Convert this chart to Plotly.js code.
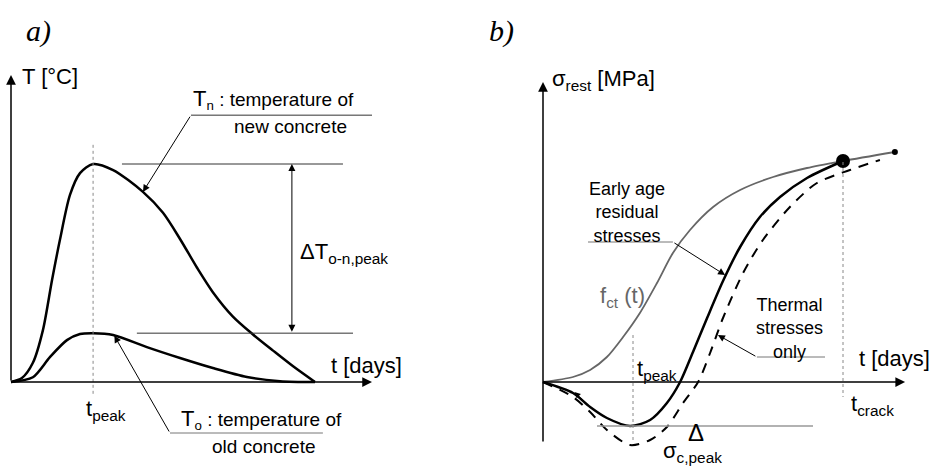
<!DOCTYPE html>
<html>
<head>
<meta charset="utf-8">
<script src="https://cdn.plot.ly/plotly-3.0.1.min.js"></script>
<style>html,body{margin:0;padding:0;background:#fff;}#chart{width:932px;height:467px;}</style>
</head>
<body>
<div id="chart"></div>
<script>
// ---------- Panel a) temperature histories ----------
const tNew   = [0, 0.36, 0.72, 1.05, 1.35, 1.61, 1.94, 2.27, 2.70, 3.36, 4.34, 5.0, 5.56, 6.12, 6.64, 7.30, 7.96, 8.62, 9.28, 10.0];
const T_new  = [0, 0.9, 4.4, 11.9, 23.4, 32.6, 42.9, 47.9, 50.0, 48.6, 43.6, 38.8, 32.8, 26.2, 20.6, 15.0, 10.9, 7.2, 3.6, 0];
const tOld   = [0, 0.72, 1.28, 1.84, 2.27, 2.70, 3.36, 4.47, 5.56, 6.64, 7.76, 8.85, 10.0];
const T_old  = [0, 1.1, 5.7, 9.6, 11.0, 11.2, 10.8, 8.0, 5.5, 3.2, 1.15, 0.2, 0];
const tPeakA = 2.70;

// ---------- Panel b) stresses ----------
const tFct    = [0, 1.0, 1.57, 2.13, 2.67, 3.23, 3.8, 4.33, 4.9, 5.67, 6.57, 7.67, 8.8, 10.0, 11.73];
const fct     = [0, 0.05, 0.12, 0.25, 0.45, 0.69, 0.99, 1.29, 1.52, 1.75, 1.92, 2.05, 2.14, 2.21, 2.30];
const tRes    = [0, 1.0, 1.57, 2.13, 2.9, 3.57, 4.13, 4.57, 5.0, 5.47, 6.0, 6.57, 7.23, 7.9, 8.8, 10.0];
const sigRes  = [0, -0.11, -0.25, -0.36, -0.44, -0.38, -0.21, 0, 0.30, 0.64, 1.01, 1.35, 1.65, 1.85, 2.04, 2.21];
const tTh     = [0, 1.0, 1.57, 2.13, 2.9, 3.57, 4.13, 4.67, 5.17, 5.57, 6.0, 6.67, 7.33, 8.23, 9.13, 10.23, 11.23];
const sigTh   = [0, -0.15, -0.30, -0.48, -0.63, -0.58, -0.45, -0.21, 0, 0.29, 0.64, 1.09, 1.42, 1.75, 1.99, 2.12, 2.22];
const tPeakB  = 3.0;
const tCrack  = 10.0;
const sigCPeak = -0.44;

const FONT = "Liberation Sans, Arial, sans-serif";
const crackVal = sigRes[sigRes.length - 1];
const SM = 0.8;

const traces = [
  {x: tNew, y: T_new, xaxis: 'x', yaxis: 'y', mode: 'lines', line: {color: '#000', width: 2.5, shape: 'spline', smoothing: SM}},
  {x: tOld, y: T_old, xaxis: 'x', yaxis: 'y', mode: 'lines', line: {color: '#000', width: 2.5, shape: 'spline', smoothing: SM}},
  {x: tFct, y: fct, xaxis: 'x2', yaxis: 'y2', mode: 'lines', line: {color: '#666', width: 1.8, shape: 'spline', smoothing: SM}},
  {x: [tFct[tFct.length-1]], y: [fct[fct.length-1]], xaxis: 'x2', yaxis: 'y2', mode: 'markers', marker: {color: '#000', size: 6}},
  {x: tRes, y: sigRes, xaxis: 'x2', yaxis: 'y2', mode: 'lines', line: {color: '#000', width: 2.5, shape: 'spline', smoothing: SM}},
  {x: tTh, y: sigTh, xaxis: 'x2', yaxis: 'y2', mode: 'lines', line: {color: '#000', width: 2, dash: '10px,8px', shape: 'spline', smoothing: SM}},
  {x: [tCrack], y: [crackVal], xaxis: 'x2', yaxis: 'y2', mode: 'markers', marker: {color: '#000', size: 14}}
];

function hline(xr, yr, x0, x1, y, color, width, dash) {
  return {type: 'line', xref: xr, yref: yr, x0: x0, x1: x1, y0: y, y1: y, line: {color: color, width: width, dash: dash || 'solid'}};
}
function vline(xr, yr, x, y0, y1, color, width, dash) {
  return {type: 'line', xref: xr, yref: yr, x0: x, x1: x, y0: y0, y1: y1, line: {color: color, width: width, dash: dash || 'solid'}};
}

const shapes = [
  vline('x', 'y', tPeakA, 54.4, -3.0, '#888', 1, 'dot'),
  hline('x', 'y', 3.65, 10.92, 50.0, '#333', 1),
  hline('x', 'y', 4.14, 11.25, 11.2, '#333', 1),
  hline('x', 'y', 5.92, 11.875, 61.2, '#333', 1),
  hline('x', 'y', 5.23, 10.26, -11.7, '#777', 1),
  vline('x2', 'y2', tPeakB, 0.47, -0.58, '#888', 1, 'dot'),
  vline('x2', 'y2', tCrack, 2.2, -0.15, '#888', 1, 'dot'),
  hline('x2', 'y2', 1.8, 9.0, sigCPeak, '#999', 1.5),
  hline('x2', 'y2', 1.5, 4.33, 1.40, '#777', 1),
  hline('x2', 'y2', 7.13, 9.4, 0.25, '#777', 1)
];

function arrow(xr, yr, x, y, ax, ay, width, size, head, side) {
  return {xref: xr, yref: yr, axref: xr, ayref: yr, x: x, y: y, ax: ax, ay: ay, text: '',
          showarrow: true, arrowhead: head, arrowsize: size, arrowwidth: width, arrowcolor: '#000',
          arrowside: side || 'end', standoff: 0, startstandoff: 0};
}
function label(xr, yr, x, y, text, size, xanchor, color, align) {
  return {xref: xr, yref: yr, x: x, y: y, text: text, showarrow: false, xanchor: xanchor || 'left', yanchor: 'middle',
          align: align || 'left', font: {family: FONT, size: size, color: color || '#000'}};
}

const annotations = [
  // axes a
  arrow('x', 'y', 0, 70.4, 0, 0, 1.5, 1.3, 2),
  arrow('x', 'y', 11.875, 0, 0, 0, 1.5, 1.3, 2),
  // axes b
  arrow('x2', 'y2', 0, 3.0, 0, -0.61, 1.5, 1.3, 2),
  arrow('x2', 'y2', 12.07, 0, 0, 0, 1.5, 1.3, 2),
  // delta T double arrow
  arrow('x', 'y', 9.24, 50.0, 9.24, 11.2, 1, 1.4, 2, 'end+start'),
  // leaders
  arrow('x', 'y', 4.34, 43.6, 5.92, 61.2, 1, 1.4, 2),
  arrow('x', 'y', 3.4, 10.6, 5.23, -11.7, 1, 1.4, 2),
  arrow('x2', 'y2', 6.07, 1.07, 4.33, 1.40, 1, 1.4, 2),
  arrow('x2', 'y2', 5.83, 0.47, 7.13, 0.25, 1, 1.4, 2),
  arrow('x2', 'y2', 1.05, -0.1, 1.35, -0.19, 1, 1.2, 2),
  // panel labels
  {xref: 'paper', yref: 'paper', x: 24/932, y: 1 - 31/467, text: '<i>a)</i>', showarrow: false, xanchor: 'left', yanchor: 'middle',
   font: {family: 'Liberation Serif, Times New Roman, serif', size: 30, color: '#000'}},
  {xref: 'paper', yref: 'paper', x: 487/932, y: 1 - 31/467, text: '<i>b)</i>', showarrow: false, xanchor: 'left', yanchor: 'middle',
   font: {family: 'Liberation Serif, Times New Roman, serif', size: 30, color: '#000'}},
  // panel a texts
  label('x', 'y', 0.3, 70.0, 'T [°C]', 22),
  label('x', 'y', 5.92, 64.7, '<span style="font-size:22px">T</span><sub>n</sub> : temperature of', 19),
  label('x', 'y', 9.18, 58.7, 'new concrete', 19, 'center'),
  label('x', 'y', 9.45, 29.6, 'ΔT<sub>o-n,peak</sub>', 22),
  label('x', 'y', 10.45, 3.9, 't [days]', 22),
  label('x', 'y', 2.4, -6.4, 't<sub>peak</sub>', 22),
  label('x', 'y', 5.52, -8.7, '<span style="font-size:22px">T</span><sub>o</sub> : temperature of', 19),
  label('x', 'y', 8.32, -14.9, 'old concrete', 19, 'center'),
  // panel b texts
  label('x2', 'y2', 0.22, 3.02, 'σ<sub>rest</sub> [MPa]', 22),
  label('x2', 'y2', 2.8, 1.70, 'Early age<br>residual<br>stresses', 18, 'center', '#000', 'center'),
  label('x2', 'y2', 1.83, 0.85, 'f<sub>ct</sub> (t)', 22, 'left', '#666'),
  label('x2', 'y2', 8.23, 0.54, 'Thermal<br>stresses<br>only', 18, 'center', '#000', 'center'),
  label('x2', 'y2', 10.45, 0.24, 't [days]', 22),
  label('x2', 'y2', 3.05, 0.12, 't<sub>peak</sub>', 22),
  label('x2', 'y2', 10.2, -0.23, 't<sub>crack</sub>', 22),
  label('x2', 'y2', 5.1, -0.50, 'Δ', 24, 'center'),
  label('x2', 'y2', 3.93, -0.70, 'σ<sub>c,peak</sub>', 22)
];

const hidden = {visible: false, fixedrange: true, domain: [0, 1]};
const layout = {
  width: 932, height: 467,
  margin: {l: 0, r: 0, t: 0, b: 0},
  paper_bgcolor: '#fff', plot_bgcolor: 'rgba(0,0,0,0)',
  showlegend: false,
  xaxis:  Object.assign({}, hidden, {range: [-11/30.4, 921/30.4], anchor: 'y'}),
  yaxis:  Object.assign({}, hidden, {range: [-85/4.36, 382/4.36], anchor: 'x'}),
  xaxis2: Object.assign({}, hidden, {range: [-543/30, 389/30], anchor: 'y2'}),
  yaxis2: Object.assign({}, hidden, {range: [-0.85, 3.82], anchor: 'x2'}),
  shapes: shapes,
  annotations: annotations
};

Plotly.newPlot('chart', traces, layout, {staticPlot: true, displayModeBar: false});
</script>
</body>
</html>
